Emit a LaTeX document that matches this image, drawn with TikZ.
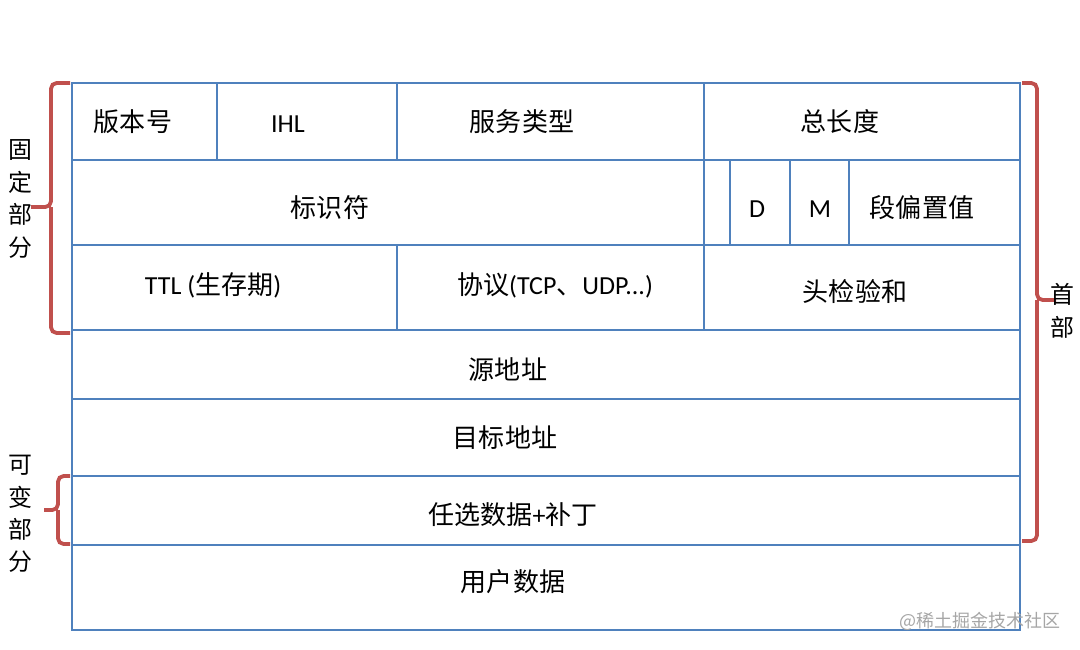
\documentclass[tikz,border=0pt]{standalone}
\usepackage{fontspec}
\setmainfont{Carlito}
\newfontfamily\cjk{Noto Sans CJK SC}
\definecolor{gridblue}{RGB}{79,129,189}
\definecolor{bracered}{RGB}{192,80,77}
\tikzset{
  outer/.style={draw=gridblue, line width=1.8pt},
  inner/.style={draw=gridblue, line width=0.9pt},
  brace/.style={draw=bracered, line width=2.7pt, rounded corners=4pt},
  field/.style={font=\fontsize{18.5}{20}\selectfont, inner sep=0pt},
  side/.style={font=\fontsize{17}{23}\cjk, align=center, inner sep=0pt},
}
\begin{document}
\begin{tikzpicture}[x=0.025cm, y=-0.025cm]
        \useasboundingbox (0,0) rectangle (1080,650);
        \def\L{72} \def\R{1020}

        % row lines
        \foreach \y in {160,245,330,399,476,545}
            \draw[inner] (\L,\y) -- (\R,\y);
        % column lines
        \draw[inner] (217,83) -- (217,160);
        \draw[inner] (397,83) -- (397,160);
        \draw[inner] (704,83) -- (704,330);
        \draw[inner] (730,160) -- (730,245);
        \draw[inner] (790,160) -- (790,245);
        \draw[inner] (849,160) -- (849,245);
        \draw[inner] (397,245) -- (397,330);
        \draw[outer] (\L,83) rectangle (\R,630);

        % fields
        \node[field] (ver) at (133,122) {\cjk 版本号};
        \node[field] (ihl) at (288,124) {IHL};
        \node[field] (tos) at (522,122) {\cjk 服务类型};
        \node[field] (len) at (840,122) {\cjk 总长度};
        \node[field] (ident) at (330,208) {\cjk 标识符};
        \node[field] (dflag) at (757,209) {D};
        \node[field] (mflag) at (820,209) {M};
        \node[field] (offset) at (922,208) {\cjk 段偏置值};
        \node[field] (ttl) at (213,285) {TTL ({\cjk 生存期})};
        \node[field] (proto) at (555,285) {{\cjk 协议}(TCP{\cjk 、}UDP...)};
        \node[field] (chk) at (855,292) {\cjk 头检验和};
        \node[field] (src) at (508,370) {\cjk 源地址};
        \node[field] (dst) at (505,438) {\cjk 目标地址};
        \node[field] (opt) at (513,515) {{\cjk 任选数据}+{\cjk 补丁}};
        \node[field] (data) at (513,582) {\cjk 用户数据};

        % braces
        \draw[brace] (70,83) -- (51,83) -- (51,207) -- (31,207);
        \draw[brace] (51,207) -- (51,333) -- (70,333);
        \draw[brace] (70,476) -- (58,476) -- (58,510) -- (44,510);
        \draw[brace] (58,510) -- (58,544) -- (70,544);
        \draw[brace] (1022,83) -- (1037,83) -- (1037,300) -- (1056,300);
        \draw[brace] (1037,300) -- (1037,541) -- (1022,541);

        \node[side] (fixed) at (20,199) {固\\定\\部\\分};
        \node[side] (var) at (20,514) {可\\变\\部\\分};
        \node[side] (head) at (1062,311) {首\\部};

        \node[font=\fontsize{12.8}{14}\cjk, text=black!35, inner sep=0pt] (mark) at (980,621) {@稀土掘金技术社区};
    \end{tikzpicture}
\end{document}
